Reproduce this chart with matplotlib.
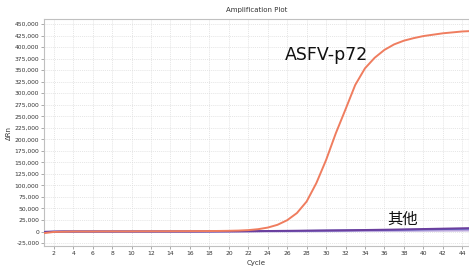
import matplotlib

matplotlib.use("Agg")
import matplotlib.pyplot as plt
from matplotlib.ticker import FuncFormatter, MultipleLocator

plt.rcParams["font.family"] = ["DejaVu Sans", "Noto Sans CJK SC"]

cycles = list(range(1, 46))

# ASFV-p72 amplification curve (delta Rn per cycle)
asfv = [
    -3500, -1000, -500, 0, 0, 0, 200, 300, 200, 300,
    400, 500, 500, 600, 700, 800, 900, 1000, 1200, 1500,
    2000, 3000, 5000, 8500, 14500, 24500, 40000, 65000, 105000, 155000,
    213000, 265000, 318000, 354000, 377000, 394000, 406000, 414000, 419500, 424000,
    427000, 430000, 432000, 434000, 435000,
]

# negative / other targets stay near baseline
other_a = [
    -1500, -500, 0, 0, 0, 0, 0, 0, 0, 0,
    0, 0, 0, 0, 0, 0, 100, 200, 300, 400,
    500, 700, 900, 1100, 1300, 1500, 1700, 1900, 2100, 2300,
    2500, 2700, 3000, 3300, 3600, 3900, 4200, 4600, 5000, 5400,
    5800, 6200, 6600, 7000, 7400,
]
other_b = [
    -800, -300, 0, 0, 0, 0, 0, 0, 0, 0,
    0, 0, 0, 0, 0, 0, 0, 100, 200, 300,
    400, 500, 600, 800, 1000, 1200, 1400, 1600, 1800, 2000,
    2200, 2400, 2600, 2800, 3000, 3200, 3500, 3800, 4100, 4400,
    4700, 5000, 5300, 5600, 5900,
]
other_c = [
    -300, 0, 0, 0, 0, 0, 0, 0, 0, 0,
    0, 0, 0, 0, 0, 0, 0, 0, 0, 0,
    100, 200, 300, 400, 500, 600, 700, 800, 900, 1000,
    1100, 1200, 1300, 1400, 1500, 1600, 1700, 1800, 1900, 2000,
    2100, 2200, 2300, 2400, 2500,
]

fig = plt.figure(figsize=(4.69, 2.68), dpi=100)
ax = fig.add_axes([0.094, 0.082, 0.906, 0.847])

ax.plot(cycles, other_c, color="#b9a6dc", lw=1.6, zorder=2)
ax.plot(cycles, other_b, color="#5a5fc4", lw=1.2, zorder=3)
ax.plot(cycles, other_a, color="#6b3f9e", lw=1.4, zorder=4)
ax.plot(cycles, asfv, color="#ef7d5f", lw=1.4, zorder=5)

ax.set_xlim(1, 44.7)
ax.set_ylim(-31500, 461000)
ax.set_xticks(range(2, 45, 2))
ax.yaxis.set_major_locator(MultipleLocator(25000))
ax.yaxis.set_major_formatter(FuncFormatter(lambda v, p: f"{int(v):,}"))
ax.tick_params(labelsize=4.3, length=2, width=0.5, color="#888888",
               labelcolor="#333333", pad=1.5)
ax.grid(True, color="#dcdcdc", linestyle=(0, (1.5, 1.5)), linewidth=0.5)
ax.set_axisbelow(True)
for sp in ax.spines.values():
    sp.set_color("#c0c0c0")
    sp.set_linewidth(0.8)

ax.set_title("Amplification Plot", fontsize=5, color="#333333", pad=5)
ax.set_xlabel("Cycle", fontsize=5, color="#333333", labelpad=3)
ax.set_ylabel("ΔRn", fontsize=5, color="#333333", labelpad=2)

ax.text(25.8, 383000, "ASFV-p72", fontsize=12.5, color="#111111", va="center")
ax.text(36.3, 26000, "其他", fontsize=11, color="#111111", va="center",
        family=["Noto Sans CJK SC", "DejaVu Sans"])

fig.savefig("out.png", dpi=100)
